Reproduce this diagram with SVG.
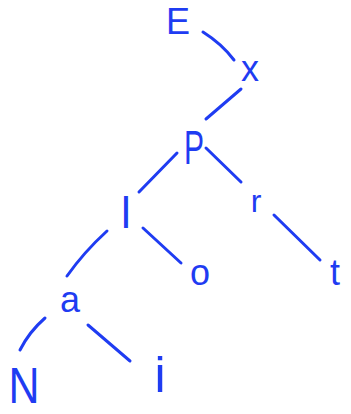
<svg xmlns="http://www.w3.org/2000/svg" width="351" height="414" viewBox="0 0 351 414">
<style>
.n{font-family:"Liberation Sans",Arial,sans-serif;fill:#1f3cf2;text-anchor:middle}
.e{fill:none;stroke:#1f3cf2;stroke-width:3;stroke-linecap:round}
</style>
<rect width="351" height="414" fill="#ffffff"/>
<g id="connectors">
<path class="e" d="M203,32 Q222,44 234,60"/>
<path class="e" d="M241,89 L206,119"/>
<path class="e" d="M177,153 L139,192"/>
<path class="e" d="M206,148 L241,182"/>
<path class="e" d="M107,231 Q84,252 67,276"/>
<path class="e" d="M143,228 L181,263"/>
<path class="e" d="M274,215 L320,260"/>
<path class="e" d="M45,318 Q29,332 20,350"/>
<path class="e" d="M88,325 L130,361"/>
</g>
<g id="node-E"><text class="n" x="178" y="34" font-size="36">E</text></g>
<g id="node-x"><text class="n" x="250" y="81" font-size="36">x</text></g>
<g id="node-P"><text class="n" x="194" y="164" font-size="48" textLength="20" lengthAdjust="spacingAndGlyphs">P</text></g>
<g id="node-l"><text class="n" x="126" y="228" font-size="44">l</text></g>
<g id="node-r"><text class="n" x="256" y="212" font-size="32">r</text></g>
<g id="node-o"><text class="n" x="200" y="285" font-size="36">o</text></g>
<g id="node-t"><text class="n" x="335" y="285" font-size="36">t</text></g>
<g id="node-a"><text class="n" x="70" y="312" font-size="36">a</text></g>
<g id="node-N"><text class="n" x="24" y="403" font-size="50" textLength="31" lengthAdjust="spacingAndGlyphs">N</text></g>
<g id="node-i"><text class="n" x="160" y="392" font-size="50">i</text></g>
</svg>
